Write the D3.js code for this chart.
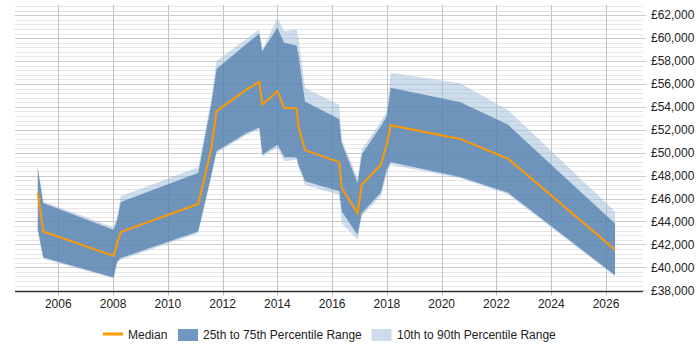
<!DOCTYPE html>
<html>
<head>
<meta charset="utf-8">
<script src="https://cdn.jsdelivr.net/npm/d3@7"></script>
<style>
  html, body { margin: 0; padding: 0; background: #fff; }
  text { font-family: "Liberation Sans", Arial, sans-serif; }
</style>
</head>
<body>
<svg id="chart" width="700" height="350"></svg>
<script>
const years = [2005.25, 2005.45, 2008.02, 2008.15, 2008.28, 2011.11, 2011.58, 2011.78, 2012.88, 2013.34, 2013.45, 2014.0, 2014.25, 2014.7, 2014.77, 2015.01, 2016.26, 2016.35, 2016.93, 2017.08, 2017.78, 2017.99, 2018.14, 2020.67, 2022.42, 2026.33];
const p90 = [48800, 45750, 43500, 44400, 46200, 48725, 54650, 58000, 59950, 60775, 58975, 61750, 60625, 60775, 60075, 55650, 54175, 51150, 47800, 50275, 52725, 53600, 56975, 56050, 53725, 44875];
const p75 = [48700, 45600, 43275, 44150, 45700, 48250, 54200, 57325, 59500, 60400, 58875, 60925, 59600, 59375, 58600, 54475, 52950, 50850, 47350, 49850, 52325, 53150, 55675, 54425, 52450, 43825];
const median = [46500, 43125, 41000, 42100, 43075, 45525, 50275, 53625, 55525, 56175, 54200, 55375, 53925, 53850, 52325, 50225, 49175, 46925, 44725, 47200, 48950, 50700, 52400, 51200, 49475, 41525];
const p25 = [43275, 40850, 39100, 40475, 40800, 43125, 47950, 50125, 51725, 52175, 49825, 50700, 49625, 49575, 48950, 47500, 46625, 44875, 42825, 44725, 46500, 48525, 49175, 47875, 46500, 39300];
const p10 = [43100, 40750, 39025, 40400, 40650, 42975, 47825, 49975, 51575, 52025, 49675, 50425, 49250, 49400, 48700, 47175, 46325, 43850, 42400, 44450, 46200, 48100, 48950, 47775, 46375, 39200];

const xTicks = [2006, 2008, 2010, 2012, 2014, 2016, 2018, 2020, 2022, 2024, 2026];
const yTicks = [38000, 40000, 42000, 44000, 46000, 48000, 50000, 52000, 54000, 56000, 58000, 60000, 62000];
const legendLabels = ["Median", "25th to 75th Percentile Range", "10th to 90th Percentile Range"];

const colMedian = "#ff9900";
const colMid = "#5783b2";
const colOuter = "#9bbbd9";
const colMidLegend = "#7097c0";
const colOuterLegend = "#cddcec";

const svg = d3.select("#chart");
const L = 15, R = 643, T = 6, B = 290.2, axisY = 291.7;

const x = d3.scaleLinear().domain([2004.419, 2027.351]).range([L, R]);
const y = d3.scaleLinear().domain([38000, 62800]).range([B, T]);

const data = years.map((yr, i) => ({yr, p10: p10[i], p25: p25[i], m: median[i], p75: p75[i], p90: p90[i]}));

// minor gridlines
const minor = d3.range(38000, 62801, 400).filter(v => v % 2000 !== 0);
svg.append("g").selectAll("line").data(minor).join("line")
  .attr("x1", L).attr("x2", R)
  .attr("y1", d => Math.round(y(d)) + 0.5).attr("y2", d => Math.round(y(d)) + 0.5)
  .attr("stroke", "#e6e6e6").attr("stroke-width", 1);

// major gridlines
svg.append("g").selectAll("line").data(yTicks).join("line")
  .attr("x1", L).attr("x2", R + 3)
  .attr("y1", d => Math.round(y(d)) + 0.5).attr("y2", d => Math.round(y(d)) + 0.5)
  .attr("stroke", "#cccccc").attr("stroke-width", 1);

// vertical gridlines
svg.append("g").selectAll("line").data(xTicks).join("line")
  .attr("x1", d => Math.round(x(d)) + 0.5).attr("x2", d => Math.round(x(d)) + 0.5)
  .attr("y1", T - 1).attr("y2", axisY + 4)
  .attr("stroke", "#c4c4c4").attr("stroke-width", 1);

// bands
const area = (lo, hi) => d3.area().x(d => x(d.yr)).y0(d => y(d[lo])).y1(d => y(d[hi]));
svg.append("path").datum(data).attr("d", area("p75", "p90")).attr("fill", colOuter).attr("fill-opacity", 0.5);
svg.append("path").datum(data).attr("d", area("p10", "p25")).attr("fill", colOuter).attr("fill-opacity", 0.5);
svg.append("path").datum(data).attr("d", area("p25", "p75")).attr("fill", colMid).attr("fill-opacity", 0.85);

// median
svg.append("path").datum(data)
  .attr("d", d3.line().x(d => x(d.yr)).y(d => y(d.m)))
  .attr("fill", "none").attr("stroke", colMedian).attr("stroke-width", 2).attr("stroke-linejoin", "miter");

// x axis line
svg.append("line").attr("x1", L).attr("x2", R).attr("y1", axisY).attr("y2", axisY)
  .attr("stroke", "#000").attr("stroke-width", 1);

// x labels
svg.append("g").selectAll("text").data(xTicks).join("text")
  .attr("x", d => x(d)).attr("y", 308)
  .attr("text-anchor", "middle").attr("font-size", 12).attr("fill", "#222")
  .text(d => d);

// y labels
const fmt = d3.format(",");
svg.append("g").selectAll("text").data(yTicks).join("text")
  .attr("x", 651).attr("y", d => y(d) + 4.3)
  .attr("text-anchor", "start").attr("font-size", 12).attr("fill", "#222")
  .text(d => "£" + fmt(d));

// legend
const lg = svg.append("g");
lg.append("line").attr("x1", 103).attr("x2", 123).attr("y1", 334).attr("y2", 334)
  .attr("stroke", colMedian).attr("stroke-width", 3);
lg.append("text").attr("x", 128).attr("y", 338.5).attr("font-size", 12).attr("fill", "#222").text(legendLabels[0]);
lg.append("rect").attr("x", 178).attr("y", 329).attr("width", 20).attr("height", 12).attr("fill", colMidLegend);
lg.append("text").attr("x", 203).attr("y", 338.5).attr("font-size", 12).attr("fill", "#222").text(legendLabels[1]);
lg.append("rect").attr("x", 371.5).attr("y", 329).attr("width", 20).attr("height", 12).attr("fill", colOuterLegend);
lg.append("text").attr("x", 397).attr("y", 338.5).attr("font-size", 12).attr("fill", "#222").text(legendLabels[2]);
</script>
</body>
</html>
